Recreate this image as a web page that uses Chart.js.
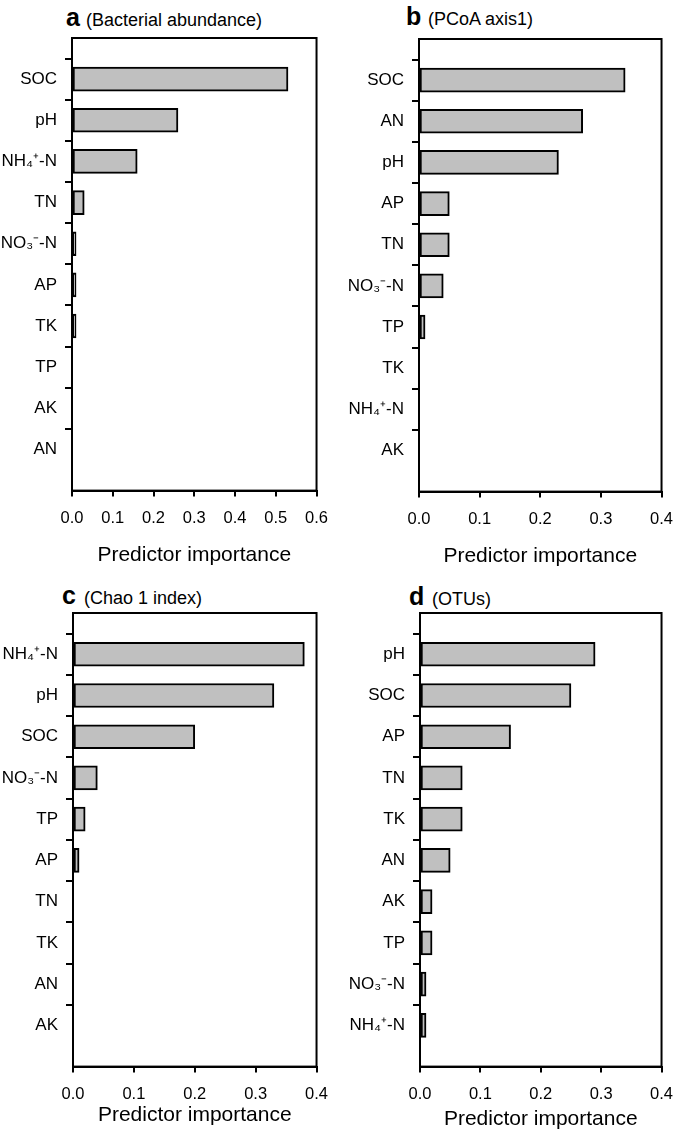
<!DOCTYPE html>
<html>
<head>
<meta charset="utf-8">
<script src="https://cdn.jsdelivr.net/npm/chart.js@4.4.1/dist/chart.umd.min.js"></script>
<style>
  body { margin: 0; background: #fff; }
  #wrap { position: relative; width: 685px; height: 1136px; font-family: "Liberation Sans", Arial, sans-serif; color: #000; }
  canvas { position: absolute; }
  .t { position: absolute; line-height: 30px; white-space: nowrap; }
  .k { font-weight: bold; font-size: 25px; }
  .s { font-size: 18px; }
</style>
</head>
<body>
<div id="wrap">
  <span class="t k" style="left:66px;top:2.3px">a</span>
  <span class="t s" style="left:86px;top:4.8px">(Bacterial abundance)</span>
  <span class="t k" style="left:406px;top:1.3px">b</span>
  <span class="t s" style="left:428px;top:3.8px">(PCoA axis1)</span>
  <span class="t k" style="left:62px;top:580.3px">c</span>
  <span class="t s" style="left:84px;top:582.8px">(Chao 1 index)</span>
  <span class="t k" style="left:409px;top:581.3px">d</span>
  <span class="t s" style="left:432px;top:583.8px">(OTUs)</span>

  <canvas id="chartA" width="340" height="568" style="left:0;top:0"></canvas>
  <canvas id="chartB" width="345" height="569" style="left:340px;top:0"></canvas>
  <canvas id="chartC" width="340" height="558" style="left:0;top:570px"></canvas>
  <canvas id="chartD" width="345" height="562" style="left:340px;top:570px"></canvas>
</div>
<script>
// a: bacterial abundance
const labelsA = ['SOC', 'pH', 'NH₄⁺-N', 'TN', 'NO₃⁻-N', 'AP', 'TK', 'TP', 'AK', 'AN'];
const valuesA = [0.53, 0.26, 0.16, 0.03, 0.01, 0.01, 0.01, 0, 0, 0];
const ticksA = [0, 0.1, 0.2, 0.3, 0.4, 0.5, 0.6];

// b: PCoA axis1
const labelsB = ['SOC', 'AN', 'pH', 'AP', 'TN', 'NO₃⁻-N', 'TP', 'TK', 'NH₄⁺-N', 'AK'];
const valuesB = [0.34, 0.27, 0.23, 0.05, 0.05, 0.04, 0.01, 0, 0, 0];
const ticksB = [0, 0.1, 0.2, 0.3, 0.4];

// c: Chao 1 index
const labelsC = ['NH₄⁺-N', 'pH', 'SOC', 'NO₃⁻-N', 'TP', 'AP', 'TN', 'TK', 'AN', 'AK'];
const valuesC = [0.38, 0.33, 0.20, 0.04, 0.02, 0.01, 0, 0, 0, 0];
const ticksC = [0, 0.1, 0.2, 0.3, 0.4];

// d: OTUs
const labelsD = ['pH', 'SOC', 'AP', 'TN', 'TK', 'AN', 'AK', 'TP', 'NO₃⁻-N', 'NH₄⁺-N'];
const valuesD = [0.29, 0.25, 0.15, 0.07, 0.07, 0.05, 0.02, 0.02, 0.01, 0.01];
const ticksD = [0, 0.1, 0.2, 0.3, 0.4];

const FONT = '"Liberation Sans", Arial, sans-serif';

// frame round the plot area
const boxPlugin = {
  id: 'box',
  afterDraw(chart) {
    const a = chart.chartArea, ctx = chart.ctx;
    ctx.save();
    ctx.strokeStyle = '#000';
    ctx.lineWidth = 2;
    ctx.strokeRect(a.left, a.top, a.right - a.left, a.bottom - a.top);
    ctx.restore();
  }
};

function makePanel(id, labels, values, ticks, axisW, padTop, padRight, titlePad) {
  // one empty slot above and below the bars
  const cats = [''].concat(labels, ['']);
  const data = [null].concat(values, [null]);
  new Chart(document.getElementById(id), {
    type: 'bar',
    data: {
      labels: cats,
      datasets: [{
        data: data,
        backgroundColor: '#c0c0c0',
        borderColor: '#000',
        borderWidth: 2,
        borderSkipped: false,
        barThickness: 24
      }]
    },
    options: {
      indexAxis: 'y',
      responsive: false,
      animation: false,
      layout: { padding: { top: padTop, right: padRight, left: 0, bottom: 0 } },
      plugins: { legend: { display: false }, tooltip: { enabled: false } },
      scales: {
        y: {
          offset: false,
          afterFit: s => { s.width = axisW; },
          grid: {
            drawOnChartArea: false,
            tickLength: 7,
            lineWidth: 2,
            tickColor: c => (c.tick && c.tick.label === '') ? 'rgba(0,0,0,0)' : '#000'
          },
          border: { display: true, color: '#000', width: 2 },
          ticks: { color: '#000', padding: 8, font: { family: FONT, size: 17 } }
        },
        x: {
          min: ticks[0],
          max: ticks[ticks.length - 1],
          afterBuildTicks: s => { s.ticks = ticks.map(v => ({ value: v })); },
          grid: { drawOnChartArea: false, tickLength: 6, lineWidth: 2, tickColor: '#000' },
          border: { display: true, color: '#000', width: 2 },
          ticks: {
            color: '#000', padding: 12, maxRotation: 0,
            font: { family: FONT, size: 16.5 },
            callback: v => Number(v).toFixed(1)
          },
          title: {
            display: true,
            text: 'Predictor importance',
            color: '#000',
            font: { family: FONT, size: 21 },
            padding: { top: titlePad, bottom: 0 }
          }
        }
      }
    },
    plugins: [boxPlugin]
  });
}

makePanel('chartA', labelsA, valuesA, ticksA, 72, 38, 16, 2.4);
makePanel('chartB', labelsB, valuesB, ticksB, 79, 39, 14, 2.4);
makePanel('chartC', labelsC, valuesC, ticksC, 73, 43, 14, -13.6);
makePanel('chartD', labelsD, valuesD, ticksD, 80, 43, 13, -9.6);
</script>
</body>
</html>
